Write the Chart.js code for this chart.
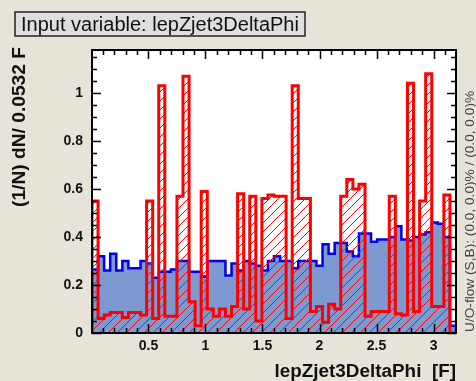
<!DOCTYPE html>
<html>
<head>
<meta charset="utf-8">
<script src="https://cdn.jsdelivr.net/npm/chart.js@4.4.1/dist/chart.umd.min.js"></script>
<style>
  html, body { margin: 0; padding: 0; background: #e6e4d9; }
</style>
</head>
<body>
<canvas id="myChart" width="476" height="381"></canvas>
<script>
const title = 'Input variable: lepZjet3DeltaPhi';
const xTitle = 'lepZjet3DeltaPhi  [F]';
const yTitle = '(1/N) dN/ 0.0532 F';
const flowText = 'U/O-flow (S,B): (0.0, 0.0)% / (0.0, 0.0)%';

// binning
const xMin = 0.005;
const binWidth = 0.0532;
const xTicks = [0.5, 1, 1.5, 2, 2.5, 3];
const yTicks = [0, 0.2, 0.4, 0.6, 0.8, 1];

// signal (blue) per bin
const signal = [
  0.265, 0.32, 0.26, 0.33, 0.26, 0.30, 0.27, 0.27, 0.30, 0.29,
  0.23, 0.255, 0.255, 0.265, 0.30, 0.30, 0.255, 0.255, 0.235, 0.30,
  0.30, 0.30, 0.24, 0.29, 0.26, 0.30, 0.29, 0.28, 0.26, 0.30,
  0.32, 0.30, 0.30, 0.27, 0.30, 0.30, 0.30, 0.28, 0.37, 0.33,
  0.375, 0.375, 0.34, 0.32, 0.415, 0.415, 0.38, 0.39, 0.39, 0.40,
  0.445, 0.39, 0.385, 0.40, 0.41, 0.42, 0.46, 0.455, 0.40, 0.03
];

// background (red, hatched) per bin
const background = [
  0.55, 0.06, 0.075, 0.085, 0.085, 0.065, 0.085, 0.085, 0.075, 0.55,
  0.06, 1.03, 0.07, 0.07, 0.57, 1.07, 0.13, 0.03, 0.59, 0.10,
  0.07, 0.10, 0.07, 0.11, 0.58, 0.10, 0.57, 0.05, 0.56, 0.575,
  0.57, 0.57, 0.06, 1.03, 0.56, 0.56, 0.09, 0.11, 0.045, 0.12,
  0.10, 0.57, 0.64, 0.60, 0.62, 0.07, 0.09, 0.09, 0.09, 0.57,
  0.08, 0.075, 1.04, 0.09, 0.55, 1.08, 0.11, 0.11, 0.575, 0.0
];

const xMax = xMin + binWidth * signal.length;

function histPoints(values) {
  const pts = [{ x: xMin, y: 0 }];
  values.forEach((v, i) => pts.push({ x: xMin + i * binWidth, y: v }));
  pts.push({ x: xMax, y: values[values.length - 1] });
  pts.push({ x: xMax, y: 0 });
  return pts;
}

function hatch(color) {
  const c = document.createElement('canvas');
  c.width = 9; c.height = 9;
  const g = c.getContext('2d');
  g.strokeStyle = color;
  g.lineWidth = 1;
  g.beginPath();
  g.moveTo(-1, 10); g.lineTo(10, -1);
  g.moveTo(-1, 1); g.lineTo(1, -1);
  g.moveTo(8, 10); g.lineTo(10, 8);
  g.stroke();
  return g.createPattern(c, 'repeat');
}

const frame = {
  id: 'frame',
  beforeDraw(chart) {
    const { ctx, chartArea: a } = chart;
    ctx.save();
    ctx.fillStyle = '#e6e4d9';
    ctx.fillRect(0, 0, chart.width, chart.height);
    ctx.fillStyle = '#ffffff';
    ctx.fillRect(a.left, a.top, a.right - a.left, a.bottom - a.top);
    ctx.restore();
  },
  afterDraw(chart) {
    const { ctx, chartArea: a, scales } = chart;
    const x = scales.x, y = scales.y;
    ctx.save();
    ctx.strokeStyle = '#000';
    ctx.lineWidth = 1.5;
    // x ticks, bottom and top
    for (let k = 1; k <= 31; k++) {
      const v = k / 10;
      const px = Math.round(x.getPixelForValue(v)) + 0.5;
      const len = k % 5 === 0 ? 9 : 5;
      ctx.beginPath();
      ctx.moveTo(px, a.bottom); ctx.lineTo(px, a.bottom - len);
      ctx.moveTo(px, a.top); ctx.lineTo(px, a.top + len);
      ctx.stroke();
    }
    // y ticks, left and right
    for (let k = 0; k <= 23; k++) {
      const v = k * 0.05;
      const py = Math.round(y.getPixelForValue(v)) + 0.5;
      const len = k % 4 === 0 ? 9 : 5;
      ctx.beginPath();
      ctx.moveTo(a.left, py); ctx.lineTo(a.left + len, py);
      ctx.moveTo(a.right, py); ctx.lineTo(a.right - len, py);
      ctx.stroke();
    }
    ctx.lineWidth = 2;
    ctx.strokeRect(a.left, a.top, a.right - a.left, a.bottom - a.top);

    // y axis title
    ctx.save();
    ctx.translate(25, 47);
    ctx.rotate(-Math.PI / 2);
    ctx.fillStyle = '#111';
    ctx.font = 'bold 14px "Liberation Sans", Arial, sans-serif';
    let w = ctx.measureText(yTitle).width;
    ctx.font = 'bold ' + (14 * 160 / w).toFixed(1) + 'px "Liberation Sans", Arial, sans-serif';
    ctx.textAlign = 'right';
    ctx.fillText(yTitle, 0, 0);
    ctx.restore();

    // title box
    ctx.fillStyle = '#dedede';
    ctx.fillRect(15, 12, 290, 24);
    ctx.strokeStyle = '#222';
    ctx.lineWidth = 1.5;
    ctx.strokeRect(15, 12, 290, 24);
    ctx.fillStyle = '#111';
    ctx.font = '16px "Liberation Sans", Arial, sans-serif';
    w = ctx.measureText(title).width;
    ctx.font = (16 * 278 / w).toFixed(1) + 'px "Liberation Sans", Arial, sans-serif';
    ctx.textBaseline = 'middle';
    ctx.textAlign = 'left';
    ctx.fillText(title, 21, 25);

    // x axis title
    ctx.font = 'bold 16px "Liberation Sans", Arial, sans-serif';
    w = ctx.measureText(xTitle).width;
    ctx.font = 'bold ' + (16 * 182 / w).toFixed(1) + 'px "Liberation Sans", Arial, sans-serif';
    ctx.textAlign = 'right';
    ctx.textBaseline = 'alphabetic';
    ctx.fillText(xTitle, 456, 377);

    // over/underflow note
    ctx.save();
    ctx.translate(474, 332);
    ctx.rotate(-Math.PI / 2);
    ctx.font = '9px "Liberation Sans", Arial, sans-serif';
    w = ctx.measureText(flowText).width;
    ctx.font = (9 * 242 / w).toFixed(1) + 'px "Liberation Sans", Arial, sans-serif';
    ctx.fillStyle = '#444';
    ctx.textAlign = 'left';
    ctx.fillText(flowText, 0, 0);
    ctx.restore();

    ctx.restore();
  }
};

const tickFont = { family: '"Liberation Sans", Arial, sans-serif', size: 14, weight: 'bold' };

const config = {
  type: 'line',
  data: {
    datasets: [
      {
        label: 'Signal',
        data: histPoints(signal),
        stepped: true,
        borderColor: '#0000ee',
        borderWidth: 2.5,
        backgroundColor: '#7d99d1',
        fill: 'origin',
        pointRadius: 0,
        order: 2,
      },
      {
        label: 'Background',
        data: histPoints(background),
        stepped: true,
        borderColor: '#ff0000',
        borderWidth: 3,
        backgroundColor: hatch('#ff0000'),
        fill: 'origin',
        pointRadius: 0,
        order: 1,
      },
    ],
  },
  options: {
    responsive: false,
    animation: false,
    layout: { padding: { left: 0, top: 50, right: 20, bottom: 0 } },
    plugins: { legend: { display: false }, title: { display: false }, tooltip: { enabled: false } },
    scales: {
      x: {
        type: 'linear',
        min: xMin,
        max: xMax,
        afterBuildTicks: (s) => { s.ticks = xTicks.map((v) => ({ value: v })); },
        afterFit: (s) => { s.height = 48; },
        grid: { display: false, drawTicks: false },
        border: { display: false },
        ticks: { font: tickFont, color: '#111', padding: 5, maxRotation: 0, autoSkip: false, callback: (v) => String(v) },
      },
      y: {
        min: 0,
        max: 1.179,
        afterBuildTicks: (s) => { s.ticks = yTicks.map((v) => ({ value: v })); },
        afterFit: (s) => { s.width = 92; },
        grid: { display: false, drawTicks: false },
        border: { display: false },
        ticks: { font: tickFont, color: '#111', padding: 9, callback: (v) => String(v) },
      },
    },
  },
  plugins: [frame],
};

new Chart(document.getElementById('myChart'), config);
</script>
</body>
</html>
